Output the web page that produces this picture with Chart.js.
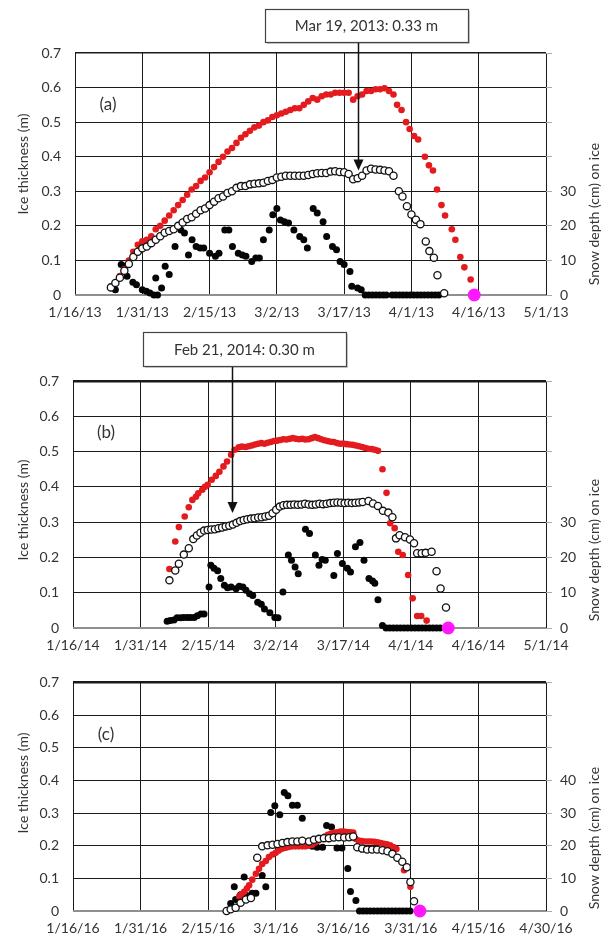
<!DOCTYPE html>
<html>
<head>
<meta charset="utf-8">
<title>Ice thickness and snow depth on ice</title>
<script src="https://cdn.jsdelivr.net/npm/chart.js@4.4.1/dist/chart.umd.min.js"></script>
<style>
  html, body { margin: 0; padding: 0; background: #fff; }
  body { width: 602px; height: 940px; position: relative; overflow: hidden; }
  canvas { position: absolute; left: 0; }
</style>
</head>
<body>
<canvas id="panelA" width="602" height="325" style="top:0"></canvas>
<canvas id="panelB" width="602" height="335" style="top:325px"></canvas>
<canvas id="panelC" width="602" height="280" style="top:660px"></canvas>
<script>
// ---------- Tick labels ----------
const dateTicksA = ["1/16/13", "1/31/13", "2/15/13", "3/2/13", "3/17/13", "4/1/13", "4/16/13", "5/1/13"];
const dateTicksB = ["1/16/14", "1/31/14", "2/15/14", "3/2/14", "3/17/14", "4/1/14", "4/16/14", "5/1/14"];
const dateTicksC = ["1/16/16", "1/31/16", "2/15/16", "3/1/16", "3/16/16", "3/31/16", "4/15/16", "4/30/16"];
const iceTicks = ["0", "0.1", "0.2", "0.3", "0.4", "0.5", "0.6", "0.7"];
const snowTicksAB = ["0", "10", "20", "30"];
const snowTicksC = ["0", "10", "20", "30", "40"];

// ---------- Panel (a) 2013 : x = days after Jan 16 ----------
const aIceDays = [8, 9, 10, 11, 12, 13, 14, 15, 16, 17, 18, 19, 20, 21, 22, 23, 24, 25, 26, 27, 28, 29, 30, 31, 32,
  33, 34, 35, 36, 37, 38, 39, 40, 41, 42, 43, 44, 45, 46, 47, 48, 49, 50, 51, 52, 53, 54, 55, 56, 57, 58, 59, 60,
  61, 62, 63, 64, 65, 66, 67, 68, 69, 70, 71,
  71.8, 72.8, 73.8, 74.6, 75.6, 76.5, 78, 78.9, 79.8, 80.7, 81.7, 82.5, 84, 84.8, 85.9, 86.8, 88.2];
const aIce = [.025, .035, .055, .075, .10, .125, .145, .155, .16, .17, .19, .20, .215, .23, .245, .26, .275, .29, .305,
  .315, .33, .34, .355, .37, .385, .40, .415, .425, .44, .455, .465, .475, .485, .49, .50, .505, .515, .52, .525, .53,
  .535, .54, .54, .55, .56, .57, .565, .575, .58, .58, .585, .585, .585, .585, .565, .575, .58, .59, .59, .595, .595,
  .598, .59, .58,
  .55, .535, .50, .48, .46, .45, .40, .375, .36, .305, .26, .23, .19, .16, .11, .08, .045];
const aOpenDays = [8, 9, 10, 11, 12, 13, 14, 15, 16, 17, 18, 19, 20, 21, 22, 23, 24, 25, 26, 27, 28, 29, 30, 31, 32,
  33, 34, 35, 36, 37, 38, 39, 40, 41, 42, 43, 44, 45, 46, 47, 48, 49, 50, 51, 52, 53, 54, 55, 56, 57, 58, 59, 60,
  61, 62, 63, 64, 65, 66, 67, 68, 69, 70, 71,
  72.2, 73, 74, 75, 76, 77, 78.2, 79, 80, 80.8, 82.3];
const aOpen = [.022, .035, .05, .07, .09, .11, .125, .135, .14, .15, .16, .17, .18, .185, .19, .20, .21, .22, .225,
  .235, .245, .25, .26, .27, .28, .285, .295, .30, .31, .315, .315, .32, .322, .323, .325, .33, .333, .34, .342, .345,
  .345, .345, .345, .345, .347, .35, .352, .353, .353, .357, .358, .356, .355, .35, .335, .338, .345, .36, .365, .363,
  .362, .36, .358, .345,
  .30, .285, .257, .233, .218, .205, .155, .127, .108, .057, .005];
const aSnowDays = [9.0, 10.3, 11.1, 11.6, 12.9, 13.7, 15.0, 15.9, 16.7, 17.6, 18.0, 18.4, 19.3, 20.1, 21.0, 22.3,
  23.6, 24.4, 25.3, 26.1, 27.0, 27.9, 28.7, 30.0, 31.3, 32.1, 33.4, 34.3, 35.1, 36.4, 37.3, 38.1, 39.4, 40.3, 41.1,
  42.0, 43.3, 44.1, 45.0, 45.8, 46.7, 47.6, 48.8, 50.1, 51.0, 51.8, 53.1, 54.0, 55.3, 56.1, 57.4, 58.3, 59.1, 60.0,
  61.3, 61.7, 63.0, 63.8,
  64.7, 65.5, 66.3, 67.1, 67.9, 68.7, 69.4, 70.7, 71.5, 72.3, 73.1, 73.9, 74.7, 75.5, 76.3, 77.1, 77.9, 78.7, 79.5,
  80.3, 81.1];
const aSnow = [1.5, 8.8, 8.3, 5.4, 3.7, 3.0, 1.5, 1.1, 0.6, 0, 4.9, 0, 2.0, 8.3, 5.9, 14, 18.8, 17.9, 11.6, 16, 14,
  13.6, 13.6, 12.1, 11.2, 12.1, 18.8, 18.8, 14, 12.1, 11.6, 11.2, 9.7, 10.7, 10.7, 16, 18.8, 23.2, 25, 21.7, 21.2,
  20.8, 18.8, 16.9, 16, 13.6, 25, 23.7, 21.2, 16.9, 14, 13.1, 9.7, 8.8, 6.8, 2.5, 2.0, 1.5,
  0, 0, 0, 0, 0, 0, 0, 0, 0, 0, 0, 0, 0, 0, 0, 0, 0, 0, 0, 0, 0];
const aIceOffDay = [89];

// ---------- Panel (b) 2014 ----------
const bIceDays = [21.4, 22.7, 23.5, 24.8, 25.7, 26.5, 27.3, 27.8, 28.7, 29.3, 29.9, 30.8, 31.7, 32.5, 33.4, 34.2,
  35.1, 35.9, 36.8, 37.5, 38.3, 39, 39.7, 40.4, 41.1, 41.8, 42.5, 43.2, 43.9, 44.6, 45.3, 46, 46.7, 47.4, 48.1,
  48.8, 49.5, 50.2, 50.9, 51.6, 52.3, 53, 53.7, 54.4, 55.1, 55.8, 56.5, 57.2, 57.9, 58.6, 59.3, 60, 60.7, 61.4,
  62.1, 62.8, 63.5, 64.2, 64.9, 65.6, 66.3, 67, 67.7,
  68.7, 69.6, 70.4, 71.4, 72.2, 73.2, 74.4, 75.4, 76.4, 77.3, 78.5];
const bIce = [.167, .245, .286, .316, .342, .363, .372, .382, .392, .40, .406, .42, .431, .443, .458, .472, .491, .505,
  .512, .514, .513, .515, .517, .52, .522, .524, .522, .525, .527, .53, .531, .533, .535, .534, .536, .538, .536, .535,
  .536, .534, .535, .538, .541, .538, .535, .532, .53, .528, .527, .524, .522, .523, .521, .52, .519, .517, .515, .513,
  .51, .508, .507, .505, .502,
  .45, .383, .297, .283, .216, .207, .15, .084, .034, .034, .021];
const bOpenDays = [21.4, 22.7, 23.5, 24.6, 25.7, 26.7, 27.5, 28.3, 29.1, 29.9, 30.7, 31.5, 32.3, 33.1, 33.9, 34.7,
  35.5, 36.3, 37.1, 37.9, 38.7, 39.5, 40.3, 41.1, 41.9, 42.7, 43.5, 44.3, 45.1, 45.9, 46.7, 47.5, 48.3, 49.1, 49.9,
  50.7, 51.5, 52.3, 53.1, 53.9, 54.7, 55.5, 56.3, 57.1, 57.9, 58.7, 59.5, 60.3, 61.1, 61.9, 62.7, 63.5, 64.3, 65.6,
  66.6, 67.7, 68.8, 70, 70.9, 71.7, 72.5, 73.7, 74.8, 75.7, 76.4, 77.4, 78.3, 79.6, 80.7, 81.6, 82.8];
const bOpen = [.135, .163, .182, .208, .226, .252, .262, .27, .276, .278, .279, .28, .283, .285, .288, .29, .293, .298,
  .303, .306, .308, .31, .311, .313, .314, .316, .318, .325, .335, .344, .348, .349, .349, .35, .349, .35, .352, .35,
  .349, .35, .352, .351, .352, .354, .355, .356, .355, .354, .355, .354, .355, .356, .357, .36,
  .353, .346, .332, .327, .314, .254, .263, .257, .251, .24, .212, .212, .213, .216, .161, .112, .058];
const bSnowDays = [20.9, 21.6, 22.4, 23.1, 23.9, 24.6, 25.4, 26.1, 26.9, 27.6, 28.4, 29.1, 30.2, 30.6, 31.3, 32.1,
  32.8, 33.6, 34.3, 35.1, 36.2, 36.9, 37.7, 38.4, 39.2, 39.9, 41.0, 41.8, 42.5, 43.7, 44.8, 45.5, 46.6, 47.8, 48.5,
  49.3, 50.0, 51.6, 52.5, 53.8, 54.6, 55.3, 56.0, 57.9, 58.7, 59.8, 60.9, 61.6, 62.7, 63.7, 64.6, 65.7, 66.5, 67.0,
  67.7, 68.7,
  69.5, 70.3, 71.1, 71.9, 72.7, 73.5, 74.3, 75.1, 75.9, 76.7, 77.5, 78.3, 79.1, 79.9, 80.7, 81.5];
const bSnow = [1.9, 2.1, 2.3, 2.9, 2.9, 3.0, 3.0, 3.0, 3.0, 3.5, 4.0, 4.0, 11.6, 17.8, 16.9, 16.2, 14.0, 12.1, 11.4,
  11.6, 11.1, 11.8, 11.6, 10.7, 9.7, 9.2, 7.3, 6.7, 5.4, 4.3, 3.0, 2.9, 10.2, 20.7, 19.2, 17.3, 15.4, 28, 26.8, 20.7,
  17.8, 19.4, 19.2, 14.9, 21.1, 18.3, 16.9, 15.9, 23.0, 24.2, 19.2, 14.0, 13.3, 12.7, 8.0, 0.7,
  0, 0, 0, 0, 0, 0, 0, 0, 0, 0, 0, 0, 0, 0, 0, 0];
const bIceOffDay = [83.3];

// ---------- Panel (c) 2016 ----------
const cIceDays = [36.9, 37.5, 38, 38.6, 39.1, 39.8, 40.6, 41.3, 42, 42.8, 43.5, 44.3, 45, 45.7, 46.5, 47.2, 47.9,
  48.7, 49.4, 50.1, 50.9, 51.6, 52.3, 53.1, 53.8, 54.5, 55.2, 55.9, 56.6, 57.3, 58, 58.7, 59.4, 60.1, 60.8, 61.5,
  62.2, 62.7, 63.4, 64.1, 64.8, 65.5, 66.2, 66.9, 67.6, 68.3, 69, 69.7, 70.4, 71.1, 71.8, 73.5, 74.9];
const cIce = [.045, .052, .059, .069, .079, .096, .114, .129, .144, .153, .165, .173, .178, .185, .191, .194, .196,
  .198, .198, .198, .198, .198, .2, .203, .21, .216, .222, .228, .233, .237, .24, .241, .243, .243, .242, .241, .24,
  .221, .216, .214, .213, .213, .213, .212, .21, .208, .206, .204, .201, .196, .19, .125, .074];
const cOpenDays = [34.1, 35, 36.1, 37.2, 38.4, 39.5, 40.9, 42, 43.2, 44.3, 45.4, 46.5, 47.6, 48.7, 49.8, 50.9, 52.4,
  53.5, 54.6, 55.7, 56.8, 57.9, 59, 60.2, 61.3, 62.2, 63.1, 64.2, 65.3, 66.4, 67.5, 68.7, 69.8, 70.9, 72, 73.1,
  74.1, 74.9, 75.7];
const cOpen = [0, .005, .01, .025, .035, .04, .163, .198, .201, .203, .205, .208, .211, .213, .213, .215, .213, .218,
  .221, .223, .223, .225, .226, .225, .226, .228, .195, .191, .188, .188, .188, .186, .183, .175, .163, .151, .134,
  .089, .030];
const cSnowDays = [35.0, 35.8, 36.1, 37.2, 38.0, 38.7, 39.8, 40.6, 42.0, 42.8, 43.9, 44.8, 45.9, 46.9, 47.7, 48.7,
  49.8, 50.9, 52.0, 53.1, 54.2, 55.4, 56.3, 57.4, 58.6, 59.7, 61.0, 61.6, 62.8,
  63.6, 64.4, 65.2, 66.0, 66.8, 67.6, 68.4, 69.2, 70.0, 70.8, 71.6, 72.4, 73.2, 74.0, 74.8];
const cSnow = [2.3, 7.4, 3.5, 5.0, 10.4, 4.7, 5.4, 5.4, 10.9, 7.4, 30.2, 32.2, 29.5, 36.3, 35.3, 32.4, 32.4, 28.4,
  21.1, 19.8, 19.5, 19.5, 26.2, 25.7, 19.3, 19.3, 13, 6, 3.2,
  0, 0, 0, 0, 0, 0, 0, 0, 0, 0, 0, 0, 0, 0, 0];
const cIceOffDay = [77];

// ---------- Panel layout (absolute page pixels) ----------
const PANELS = [
  {
    id: "panelA", top: 0, height: 325, plotLeft: 75, plotRight: 546, plotTop: 53, plotBottom: 295,
    letter: "(a)", leftTitleY: 164, rightTitleY: 214, dates: dateTicksA, snowTicks: snowTicksAB,
    ice: [aIceDays, aIce], open: [aOpenDays, aOpen], snow: [aSnowDays, aSnow], iceOff: aIceOffDay,
    note: { text: "Mar 19, 2013: 0.33 m", box: [265, 9, 203, 33], day: 63.1, tip: 0.36 }
  },
  {
    id: "panelB", top: 325, height: 335, plotLeft: 73, plotRight: 546, plotTop: 381, plotBottom: 628,
    letter: "(b)", leftTitleY: 510, rightTitleY: 550, dates: dateTicksB, snowTicks: snowTicksAB,
    ice: [bIceDays, bIce], open: [bOpenDays, bOpen], snow: [bSnowDays, bSnow], iceOff: bIceOffDay,
    note: { text: "Feb 21, 2014: 0.30 m", box: [143, 332, 203, 34], day: 35.3, tip: 0.326 }
  },
  {
    id: "panelC", top: 660, height: 280, plotLeft: 73, plotRight: 546, plotTop: 676, plotBottom: 911,
    letter: "(c)", leftTitleY: 783, rightTitleY: 838, dates: dateTicksC, snowTicks: snowTicksC,
    ice: [cIceDays, cIce], open: [cOpenDays, cOpen], snow: [cSnowDays, cSnow], iceOff: cIceOffDay
  }
];

Chart.defaults.font.family = "Lato, 'Open Sans', sans-serif";
Chart.defaults.font.size = 14;
Chart.defaults.color = "#333";

function pts(xs, ys) {
  return xs.map((x, i) => ({ x, y: ys[i] }));
}

function vText(ctx, text, x, y) {
  ctx.save();
  ctx.translate(x, y);
  ctx.rotate(-Math.PI / 2);
  ctx.fillText(text, 0, 0);
  ctx.restore();
}

// ---------- Letters, axis titles, callout boxes ----------
function decorPlugin(p) {
  return {
    id: "decor",
    afterDraw(chart) {
      const { ctx, chartArea, scales } = chart;
      ctx.save();
      ctx.fillStyle = "#333";
      ctx.textAlign = "center";
      ctx.textBaseline = "middle";

      ctx.font = "17px Lato";
      ctx.fillText(p.letter, chartArea.left + 33, chartArea.top + 52);

      ctx.font = "14px Lato";
      vText(ctx, "Ice thickness (m)", 23, p.leftTitleY - p.top);
      vText(ctx, "Snow depth (cm) on ice", 594, p.rightTitleY - p.top);

      if (p.note) {
        const n = p.note;
        const bx = n.box[0], by = n.box[1] - p.top, bw = n.box[2], bh = n.box[3];
        const ax = Math.round(scales.x.getPixelForValue(n.day)) + 0.5;
        const tipY = scales.y.getPixelForValue(n.tip);

        ctx.fillStyle = "#cfcfcf";
        ctx.fillRect(bx + 2, by + 2, bw, bh);
        ctx.fillStyle = "#fff";
        ctx.fillRect(bx, by, bw, bh);
        ctx.strokeStyle = "#444";
        ctx.lineWidth = 1.2;
        ctx.strokeRect(bx + 0.5, by + 0.5, bw, bh);
        ctx.fillStyle = "#333";
        ctx.font = "15px Lato";
        ctx.fillText(n.text, bx + bw / 2, by + bh / 2 + 1);

        ctx.strokeStyle = "#111";
        ctx.fillStyle = "#111";
        ctx.lineWidth = 1.5;
        ctx.beginPath();
        ctx.moveTo(ax, by + bh + 1);
        ctx.lineTo(ax, tipY - 9);
        ctx.stroke();
        ctx.beginPath();
        ctx.moveTo(ax - 5, tipY - 11);
        ctx.lineTo(ax + 5, tipY - 11);
        ctx.lineTo(ax, tipY);
        ctx.closePath();
        ctx.fill();
      }
      ctx.restore();
    }
  };
}

// ---------- One panel ----------
function renderPanel(p) {
  const canvas = document.getElementById(p.id);
  new Chart(canvas, {
    type: "scatter",
    data: {
      datasets: [
        { label: "Ice off", data: pts(p.iceOff, [0]), yAxisID: "y", order: 1, clip: false,
          pointRadius: 6.5, backgroundColor: "#ff17ff", borderWidth: 0 },
        { label: "Open", data: pts(p.open[0], p.open[1]), yAxisID: "y", order: 2, clip: false,
          pointRadius: 3.6, backgroundColor: "#fff", borderColor: "#111", borderWidth: 1.3 },
        { label: "Ice thickness", data: pts(p.ice[0], p.ice[1]), yAxisID: "y", order: 3, clip: false,
          pointRadius: 3.3, backgroundColor: "#e31b1f", borderWidth: 0 },
        { label: "Snow depth", data: pts(p.snow[0], p.snow[1]), yAxisID: "y2", order: 4, clip: false,
          pointRadius: 3.5, backgroundColor: "#050505", borderWidth: 0 }
      ]
    },
    options: {
      responsive: false,
      animation: false,
      events: [],
      layout: { padding: { top: p.plotTop - p.top, left: 0, right: 0, bottom: 0 } },
      plugins: { legend: { display: false }, tooltip: { enabled: false } },
      scales: {
        x: {
          type: "linear", min: 0, max: 105,
          afterFit: s => { s.height = p.height - (p.plotBottom - p.top); },
          ticks: { stepSize: 15, autoSkip: false, maxRotation: 0, padding: 9,
                   callback: v => p.dates[Math.round(v / 15)] },
          grid: { color: "#1a1a1a", lineWidth: 1, drawTicks: false },
          border: { display: false }
        },
        y: {
          position: "left", min: 0, max: 0.7,
          afterFit: s => { s.width = p.plotLeft; },
          ticks: { stepSize: 0.1, padding: 14, callback: (v, i) => iceTicks[i] },
          grid: {
            drawTicks: false,
            color: c => (c.index === 0 ? "#8f8f8f" : "#1a1a1a"),
            lineWidth: c => (c.index === 0 ? 2 : c.index === 7 ? (p.id === "panelA" ? 1.5 : 2.5) : 1)
          },
          border: { display: false }
        },
        y2: {
          position: "right", min: 0, max: 70,
          afterFit: s => { s.width = 602 - p.plotRight; },
          ticks: { stepSize: 10, padding: 8, callback: (v, i) => p.snowTicks[i] ?? "" },
          grid: { drawOnChartArea: false, drawTicks: true, tickLength: 6, color: "#aaa" },
          border: { display: false }
        }
      }
    },
    plugins: [decorPlugin(p)]
  });
}

// ---------- Init ----------
PANELS.forEach(renderPanel);
</script>
</body>
</html>
